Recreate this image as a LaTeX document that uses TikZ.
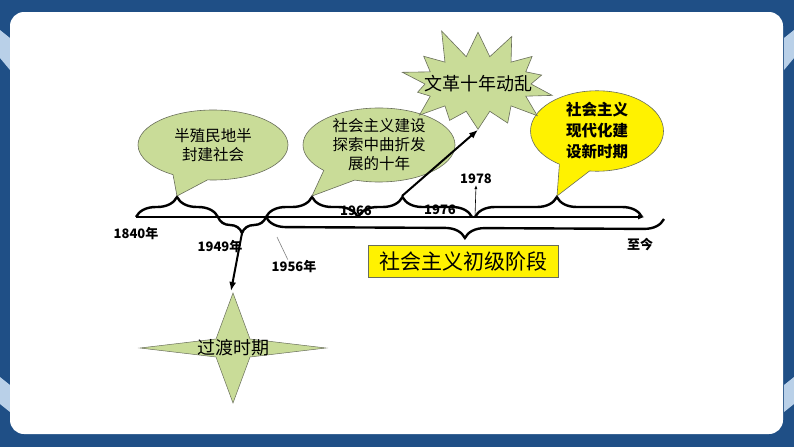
\documentclass[tikz,border=0pt]{standalone}
\usepackage{fontspec}
\setmainfont{Noto Sans CJK SC}
\usetikzlibrary{arrows.meta,positioning,shapes.callouts,shapes.symbols,decorations.pathreplacing}
\definecolor{frameblue}{RGB}{31,79,134}
\definecolor{stripeblue}{RGB}{185,208,232}
\definecolor{leafgreen}{RGB}{201,220,152}
\definecolor{rimgray}{RGB}{105,110,90}

\begin{document}
\begin{tikzpicture}[x=1pt, y=-1pt,
  bubble/.style={
    ellipse callout, draw=rimgray, line width=0.6pt, fill=leafgreen,
    align=center, inner sep=0pt, callout pointer arc=28,
    font=\fontsize{15.5}{19}\selectfont
  },
  year/.style={font=\fontsize{13}{15}\selectfont\bfseries, inner sep=1pt},
  upbrace/.style={decorate, decoration={brace, amplitude=20pt}, line width=2.4pt},
  downbrace/.style={decorate, decoration={brace, amplitude=16pt, mirror}, line width=2.4pt},
  arr/.style={-{Latex[length=9pt,width=7pt]}, line width=2pt}
]
\useasboundingbox (0,0) rectangle (794,447);

% frame
\fill[frameblue] (0,0) rectangle (794,447);
\fill[stripeblue] (0,30) -- (10,38) -- (10,70) -- (0,58) -- cycle;
\fill[stripeblue] (794,30) -- (784,38) -- (784,70) -- (794,58) -- cycle;
\fill[stripeblue] (0,377) -- (10,385) -- (10,412) -- (0,404) -- cycle;
\fill[stripeblue] (794,377) -- (784,385) -- (784,412) -- (794,404) -- cycle;
\fill[white, rounded corners=14pt] (10,12) rectangle (783,434);

% timeline points
\coordinate (t1840) at (136,217);
\coordinate (t1949) at (218,217);
\coordinate (t1956) at (266,217);
\coordinate (t1966) at (358,217);
\coordinate (t1976) at (472,217);
\coordinate (t1978) at (475,217);
\coordinate (t1978end) at (642,217);
\coordinate (tend) at (645,217);
\coordinate (tnow) at (664,219);

% brace tips
\coordinate (tipA) at (177,196);
\coordinate (tipB) at (312,196);
\coordinate (tipC) at (402,196);
\coordinate (tipD) at (557,196);
\coordinate (tipE) at (242,233);
\coordinate (lead) at (277,237);

% axis
\draw[line width=1.4pt, -{Latex[length=7pt,width=5pt]}] (t1840) -- (tend);

% braces
\draw[upbrace] (t1840) -- (t1949);
\draw[upbrace] (t1956) -- (t1966);
\draw[upbrace, decoration={aspect=0.39}] (t1966) -- (t1976);
\draw[upbrace, decoration={aspect=0.49}] (t1978) -- (t1978end);
\draw[downbrace] (t1949) -- (t1956);
\draw[downbrace, decoration={amplitude=20pt}] (t1956) -- (tnow);

% years
\node[year] (y1840) at (136,234) {1840年};
\node[year] (y1949) at (220,247) {1949年};
\node[year] (y1956) at (294,267) {1956年};
\node[year] (y1966) at (356,211) {1966};
\node[year] (y1976) at (440,210) {1976};
\node[year] (y1978) at (476,179) {1978};
\node[year] (ynow) at (640,245) {至今};

\draw[gray, line width=0.6pt] (lead) -- (y1956.130);
\draw[-{Latex[length=4pt,width=3pt]}, line width=0.6pt] (t1978) -- (y1978.south);

% stage box
\node[draw=rimgray, fill=yellow, minimum width=190pt, minimum height=32pt, inner sep=2pt,
  font=\fontsize{21}{24}\selectfont] (primary) at (463,261) {社会主义初级阶段};

% callouts
\node[bubble, minimum width=150pt, minimum height=70pt, callout absolute pointer={(tipA)}]
  (semi) at (213,145) {半殖民地半\\封建社会};
\node[bubble, minimum width=152pt, minimum height=72pt, callout absolute pointer={(tipB)}]
  (explore) at (379,145) {社会主义建设\\探索中曲折发\\展的十年};
\node[bubble, fill=yellow, minimum width=133pt, minimum height=78pt, callout absolute pointer={(tipD)},
  font=\fontsize{15.5}{21}\selectfont\bfseries] (modern) at (597,131) {社会主义\\现代化建\\设新时期};

% ten years
\node[starburst, starburst points=14, starburst point height=32pt, random starburst=11,
  fill=leafgreen, draw=rimgray, line width=0.6pt, minimum width=170pt, minimum height=120pt,
  inner sep=0pt] (chaos) at (478,84) {};
\node[font=\fontsize{18}{20}\selectfont, inner sep=0pt] (chaostext) at (chaos.center) {文革十年动乱};
\draw[arr] (tipC) -- (chaos.south);

% transition star
\node[inner sep=0pt] (trans) at (233,348) {};
\filldraw[fill=leafgreen, draw=rimgray, line width=0.5pt]
  (233,293) -- (250,339) -- (326,348) -- (250,357) -- (233,403)
  -- (216,357) -- (140,348) -- (216,339) -- cycle;
\node[inner sep=0pt, font=\fontsize{18}{20}\selectfont] at (trans) {过渡时期};
\coordinate (startop) at (231,291);
\draw[arr] (tipE) -- (startop);

\end{tikzpicture}
\end{document}
